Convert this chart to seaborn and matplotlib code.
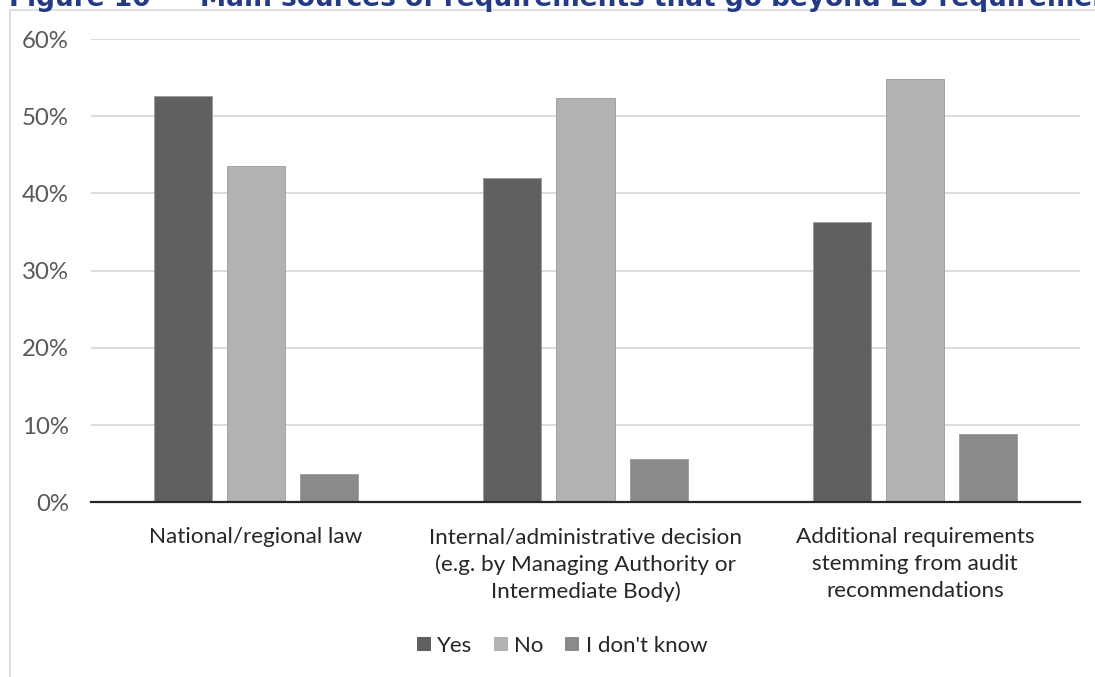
import matplotlib
matplotlib.use("Agg")
import matplotlib.pyplot as plt
import matplotlib.ticker as mticker
import matplotlib.patches as mpatches
import seaborn as sns
import pandas as pd

# Survey shares per source of additional requirements
categories = [
    "National/regional law",
    "Internal/administrative decision\n(e.g. by Managing Authority or\nIntermediate Body)",
    "Additional requirements\nstemming from audit\nrecommendations",
]
answers = ["Yes", "No", "I don't know"]
yes_share = [0.526, 0.420, 0.363]
no_share = [0.436, 0.523, 0.548]
dont_know_share = [0.037, 0.056, 0.088]
y_ticks = [0.0, 0.1, 0.2, 0.3, 0.4, 0.5, 0.6]
title_number = "Figure 10"
title_text = "Main sources of requirements that go beyond EU requirements"

colors = ["#606060", "#b2b2b2", "#8a8a8a"]

df = pd.DataFrame({
    "source": categories * 3,
    "answer": [a for a in answers for _ in categories],
    "share": yes_share + no_share + dont_know_share,
})

sns.set_theme(style="white")
plt.rcParams["font.family"] = ["Lato", "DejaVu Sans"]

W, H = 1095, 677
fig = plt.figure(figsize=(W / 100, H / 100), dpi=100)
ax = fig.add_axes([91 / W, 1 - 502.3 / H, (1080 - 91) / W, (502.3 - 39) / H])

sns.barplot(
    data=df, x="source", y="share", hue="answer",
    order=categories, hue_order=answers, palette=colors,
    width=0.665, gap=0.205, saturation=1,
    edgecolor="#9a9a9a", linewidth=0.6,
    legend=False, ax=ax, zorder=3,
)

ax.set_ylim(0, 0.6)
ax.set_xlim(-0.5, 2.5)
ax.set_yticks(y_ticks)
ax.yaxis.set_major_formatter(mticker.PercentFormatter(1.0, decimals=0))
ax.grid(axis="y", color="#d9d9d9", linewidth=1.3, zorder=0)
ax.set_axisbelow(True)
for side in ["top", "right", "left"]:
    ax.spines[side].set_visible(False)
ax.spines["bottom"].set_color("#262626")
ax.spines["bottom"].set_linewidth(1.6)
ax.spines["bottom"].set_zorder(5)
ax.set_xlabel("")
ax.set_ylabel("")
ax.tick_params(axis="y", length=0, pad=16, labelsize=17.3, labelcolor="#595959")
ax.tick_params(axis="x", length=0, pad=18, labelsize=16.2, labelcolor="#262626")
for lbl in ax.get_xticklabels():
    lbl.set_linespacing(1.42)

# legend below the plot
handles = [mpatches.Patch(facecolor=c, edgecolor="none", label=a) for c, a in zip(colors, answers)]
fig.legend(
    handles=handles, loc="center", bbox_to_anchor=(562 / W, 1 - 646 / H),
    ncol=3, frameon=False, fontsize=16, handlelength=0.63, handleheight=0.63,
    handletextpad=0.3, columnspacing=0.95, labelcolor="#262626",
)

# chart frame
fig.add_artist(plt.Line2D([10 / W, 10 / W], [0, 1 - 9.5 / H], color="#d9d9d9", linewidth=1.2,
                          transform=fig.transFigure))
fig.add_artist(plt.Line2D([10 / W, 1], [1 - 9.5 / H, 1 - 9.5 / H], color="#d9d9d9", linewidth=1.2,
                          transform=fig.transFigure))

# heading, partly above the top edge
head_kw = dict(va="baseline", fontsize=19, fontweight="bold", color="#233a84", family="DejaVu Sans")
fig.text(151 / W, 1 - 6.5 / H, title_number, ha="right", **head_kw)
fig.text(200 / W, 1 - 6.5 / H, title_text, ha="left", **head_kw)

fig.savefig("out.png", dpi=100)
